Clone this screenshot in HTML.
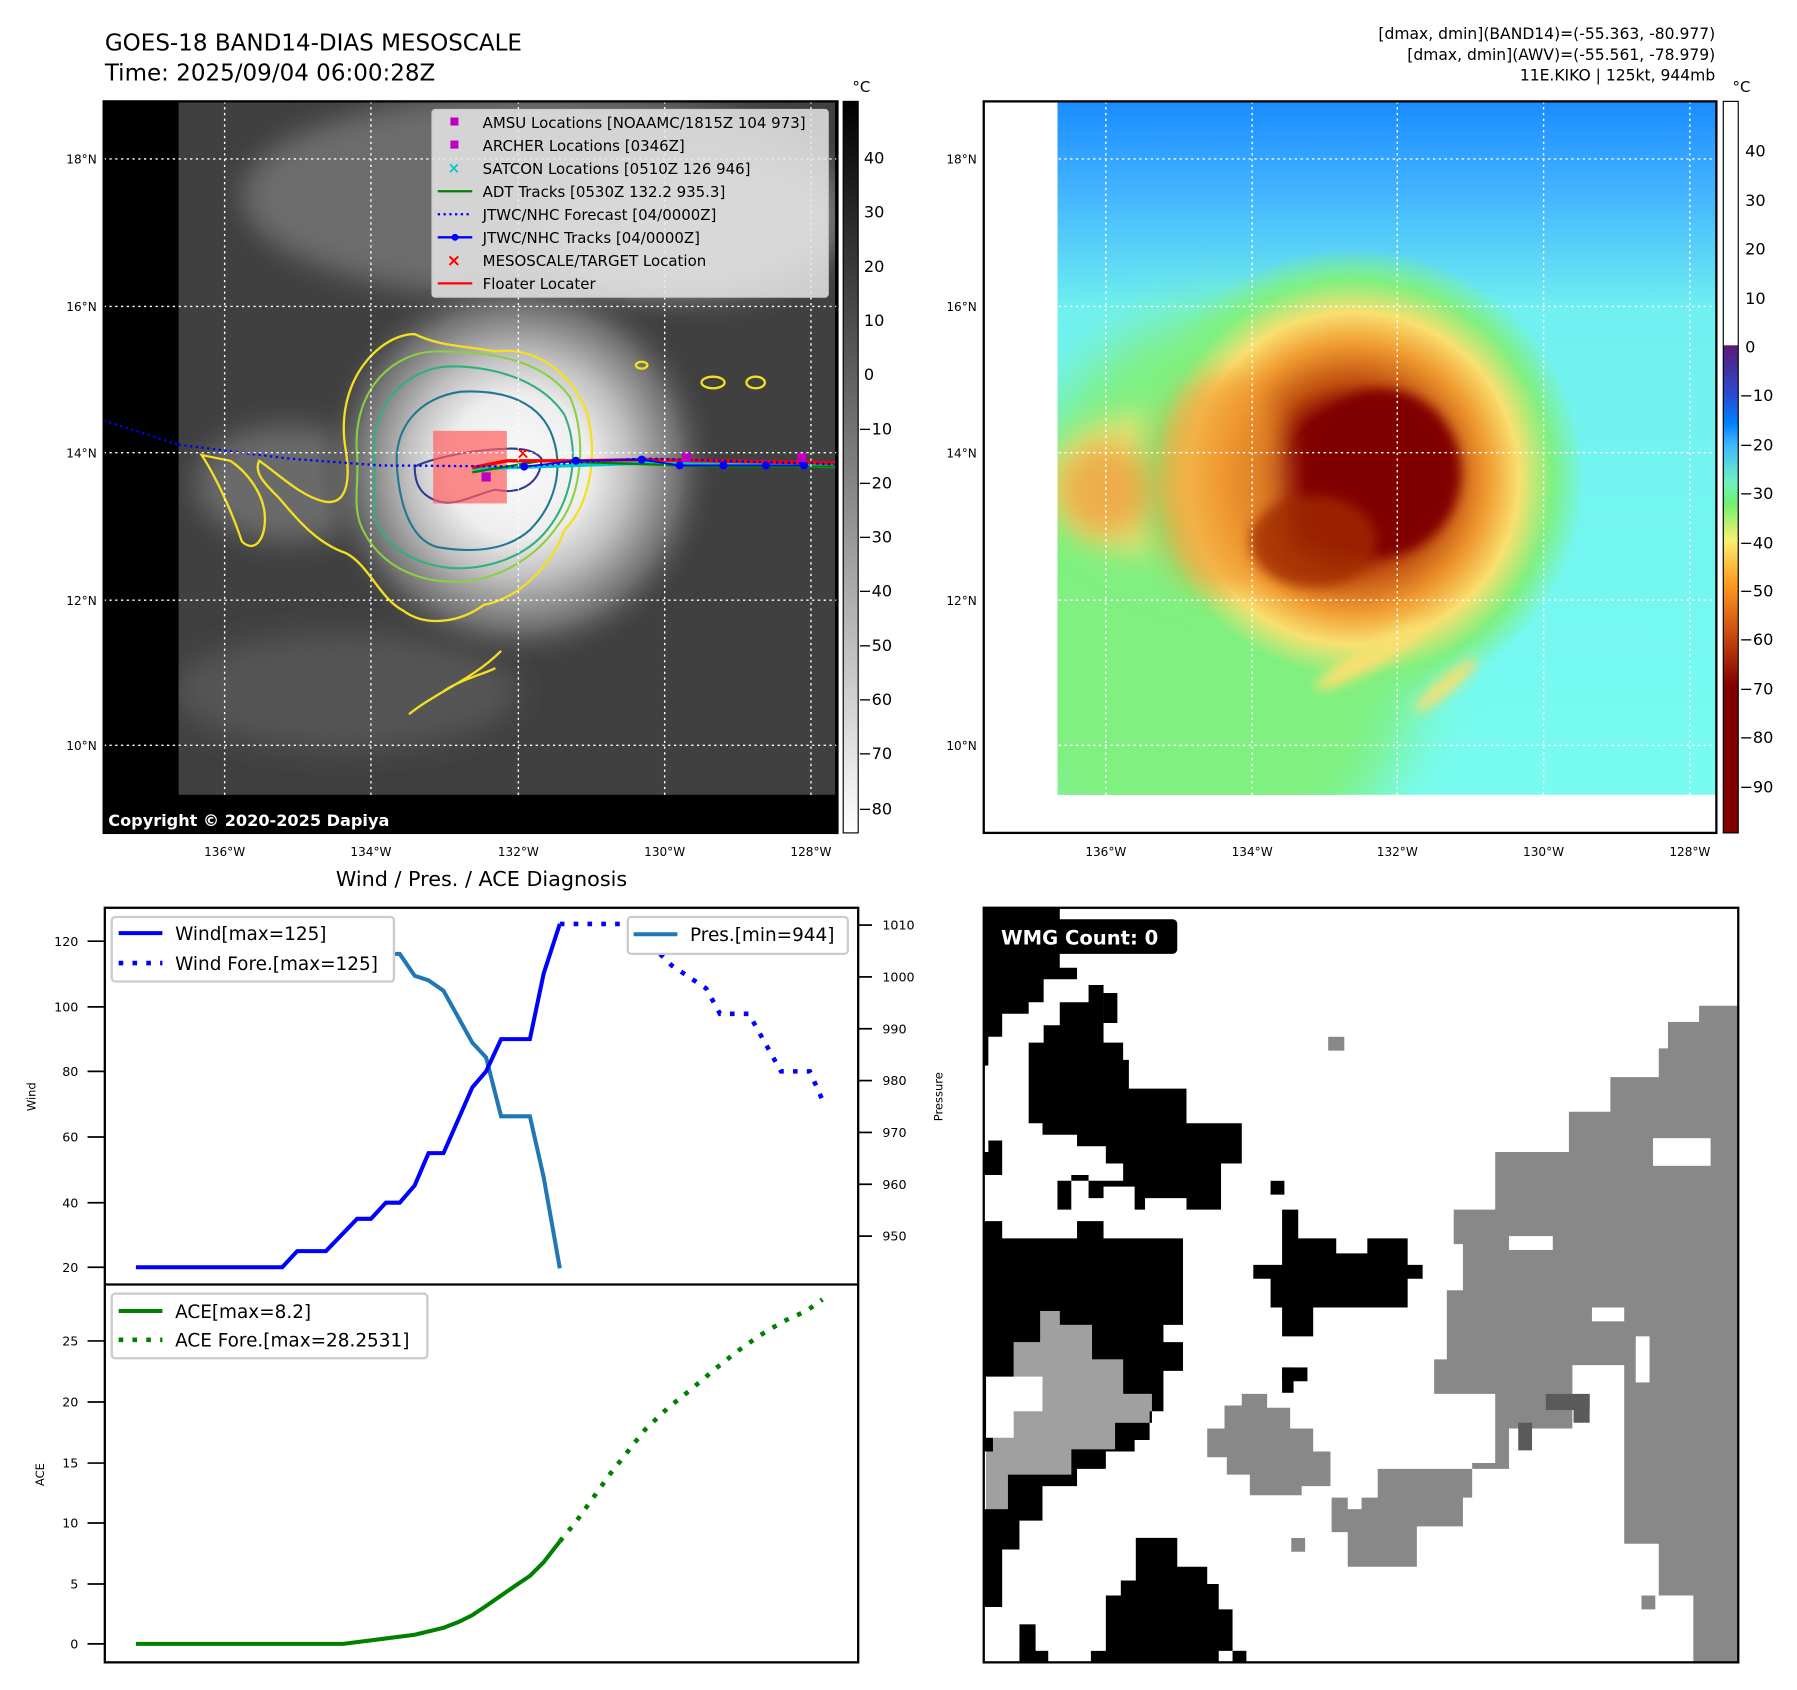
<!DOCTYPE html>
<html><head><meta charset="utf-8"><style>
html,body{margin:0;padding:0;background:#fff}
svg{display:block}
text{font-family:"DejaVu Sans","Liberation Sans",sans-serif}
</style></head><body>
<svg width="1797" height="1690" viewBox="0 0 1560 1467" preserveAspectRatio="none" xmlns="http://www.w3.org/2000/svg">
<defs>
<radialGradient id="eyeG" cx="450" cy="405" r="175" gradientUnits="userSpaceOnUse">
<stop offset="0" stop-color="#fafafa"/><stop offset="0.35" stop-color="#eeeeee"/><stop offset="0.55" stop-color="#c0c0c0"/><stop offset="0.8" stop-color="#707070"/><stop offset="1" stop-color="#404040" stop-opacity="0"/>
</radialGradient>
<linearGradient id="cbL" x1="0" y1="0" x2="0" y2="1"><stop offset="0" stop-color="#000"/><stop offset="1" stop-color="#fff"/></linearGradient>
<linearGradient id="cbR" x1="0" y1="88" x2="0" y2="723" gradientUnits="userSpaceOnUse">
<stop offset="0" stop-color="#fff"/><stop offset="0.333" stop-color="#fff"/><stop offset="0.334" stop-color="#5a1a78"/>
<stop offset="0.40" stop-color="#2a4ad0"/><stop offset="0.44" stop-color="#0080ff"/><stop offset="0.47" stop-color="#40b8ff"/>
<stop offset="0.52" stop-color="#70f0c0"/><stop offset="0.55" stop-color="#70f070"/><stop offset="0.6" stop-color="#f8f070"/>
<stop offset="0.66" stop-color="#ff9a20"/><stop offset="0.73" stop-color="#c84a10"/><stop offset="0.8" stop-color="#800000"/><stop offset="1" stop-color="#800000"/>
</linearGradient>
<linearGradient id="skyR" x1="0" y1="88" x2="0" y2="690" gradientUnits="userSpaceOnUse">
<stop offset="0" stop-color="#1a8cff"/><stop offset="0.12" stop-color="#40b0ff"/><stop offset="0.3" stop-color="#70f0f0"/><stop offset="1" stop-color="#78fcf0"/>
</linearGradient>
<radialGradient id="stormR" cx="1175" cy="415" r="200" gradientUnits="userSpaceOnUse">
<stop offset="0" stop-color="#800000"/><stop offset="0.3" stop-color="#820200"/><stop offset="0.42" stop-color="#c05010"/><stop offset="0.58" stop-color="#f09a30"/><stop offset="0.72" stop-color="#f8e070"/><stop offset="0.86" stop-color="#80f080"/><stop offset="1" stop-color="#80f080" stop-opacity="0"/>
</radialGradient>
<filter id="bl" x="-50%" y="-50%" width="200%" height="200%"><feGaussianBlur stdDeviation="12"/></filter>
<filter id="bl3" x="-50%" y="-50%" width="200%" height="200%"><feGaussianBlur stdDeviation="25"/></filter>
<filter id="bl2" x="-50%" y="-50%" width="200%" height="200%"><feGaussianBlur stdDeviation="5"/></filter>
<clipPath id="cL"><rect x="155" y="88" width="570" height="602"/></clipPath>
<clipPath id="cR"><rect x="918" y="88" width="572" height="602"/></clipPath>
</defs>

<text x="91" y="44" font-size="20">GOES-18 BAND14-DIAS MESOSCALE</text>
<text x="91" y="70" font-size="20">Time: 2025/09/04 06:00:28Z</text>
<text x="1489" y="34" font-size="13.5" text-anchor="end">[dmax, dmin](BAND14)=(-55.363, -80.977)</text>
<text x="1489" y="52" font-size="13.5" text-anchor="end">[dmax, dmin](AWV)=(-55.561, -78.979)</text>
<text x="1489" y="70" font-size="13.5" text-anchor="end">11E.KIKO | 125kt, 944mb</text>

<!-- LEFT MAP -->
<rect x="90" y="88" width="637" height="635" fill="#000"/>
<g clip-path="url(#cL)">
<rect x="155" y="88" width="570" height="602" fill="#404040"/>
<ellipse cx="470" cy="170" rx="260" ry="90" fill="#808080" filter="url(#bl)" opacity="0.7"/>
<ellipse cx="600" cy="200" rx="130" ry="60" fill="#a0a0a0" filter="url(#bl)" opacity="0.55"/>
<ellipse cx="250" cy="420" rx="80" ry="50" fill="#6a6a6a" filter="url(#bl)"/>
<ellipse cx="300" cy="600" rx="150" ry="50" fill="#555" filter="url(#bl)"/>
<circle cx="450" cy="405" r="175" fill="url(#eyeG)"/>
<path d="M300,390 C290,330 330,290 360,290 C380,300 400,300 430,305 C470,300 500,330 510,360 C520,400 510,440 490,460 C480,490 450,520 420,525 C400,540 370,545 350,530 C330,520 320,490 300,480 C270,470 250,440 240,430 C230,420 220,410 225,400 C240,410 260,430 280,435 C300,440 305,420 300,390Z" fill="none" stroke="#f4e020" stroke-width="2"/>
<path d="M310,395 C305,340 340,305 380,305 C420,305 470,310 495,345 C510,380 505,430 485,455 C465,485 430,505 395,505 C360,505 330,490 315,460 C305,440 312,420 310,395Z" fill="none" stroke="#8ccf40" stroke-width="1.8"/>
<path d="M325,400 C320,355 350,320 390,318 C430,318 470,330 490,360 C505,395 495,435 475,460 C455,485 420,495 390,493 C360,490 335,475 325,450Z" fill="none" stroke="#30b080" stroke-width="1.8"/>
<path d="M345,410 C340,370 365,345 400,340 C440,338 470,350 480,380 C490,410 480,440 460,460 C440,478 410,480 380,475 C360,470 348,445 345,410Z" fill="none" stroke="#207890" stroke-width="1.8"/>
<path d="M360,405 C370,400 390,395 410,392 C430,390 460,385 470,398 C470,420 450,430 430,425 C410,430 395,440 380,435 C365,430 360,420 360,405Z" fill="none" stroke="#303a90" stroke-width="1.8"/>
<path d="M175,395 C185,410 200,440 210,470 C220,480 230,470 230,450 C230,430 215,410 200,400Z" fill="none" stroke="#f4e020" stroke-width="2"/>
<path d="M355,620 C380,600 410,590 435,565 M385,600 C400,590 420,585 430,580" fill="none" stroke="#f4e020" stroke-width="2"/>
<ellipse cx="619" cy="332" rx="10" ry="5" fill="none" stroke="#f4e020" stroke-width="2"/>
<ellipse cx="656" cy="332" rx="8" ry="5" fill="none" stroke="#f4e020" stroke-width="2"/>
<ellipse cx="557" cy="317" rx="5" ry="3" fill="none" stroke="#f4e020" stroke-width="2"/>
<rect x="376" y="374" width="64" height="63" fill="#ff6060" opacity="0.7"/>
<polyline points="410,407 560,402 727,405" fill="none" stroke="#00c8c8" stroke-width="3"/>
<polyline points="410,410 470,400 560,403 620,405 727,405" fill="none" stroke="#008000" stroke-width="2"/>
<polyline points="410,406 440,400 500,400 560,399 727,402" fill="none" stroke="#ff0000" stroke-width="3"/>
<polyline points="155,386 250,398 330,404 455,405 520,400 560,398 727,403" fill="none" stroke="#0000ff" stroke-width="2" stroke-dasharray="2,3"/>
<polyline points="455,405 500,400 557,399 590,404 630,404 665,404 700,404" fill="none" stroke="#0000ff" stroke-width="1.5"/>
<g fill="#0000ff"><circle cx="455" cy="405" r="3.5"/><circle cx="500" cy="400" r="3.5"/><circle cx="557" cy="399" r="3.5"/><circle cx="590" cy="404" r="3.5"/><circle cx="628" cy="404" r="3.5"/><circle cx="665" cy="404" r="3.5"/><circle cx="698" cy="404" r="3.5"/></g>
<g fill="#c000c0"><rect x="592" y="393" width="8" height="8"/><rect x="692" y="393" width="8" height="8"/><rect x="418" y="410" width="8" height="8"/></g>
<text x="454" y="398" font-size="14" fill="#f00" text-anchor="middle" font-weight="bold">×</text>
</g>
<polyline points="90,365 155,386" fill="none" stroke="#0000ff" stroke-width="2" stroke-dasharray="2,3"/>
<g stroke="#fff" stroke-width="1.2" stroke-dasharray="2,3">
<line x1="195" y1="88" x2="195" y2="723"/><line x1="322" y1="88" x2="322" y2="723"/><line x1="450" y1="88" x2="450" y2="723"/><line x1="577" y1="88" x2="577" y2="723"/><line x1="704" y1="88" x2="704" y2="723"/>
<line x1="90" y1="138" x2="727" y2="138"/><line x1="90" y1="266" x2="727" y2="266"/><line x1="90" y1="393" x2="727" y2="393"/><line x1="90" y1="521" x2="727" y2="521"/><line x1="90" y1="647" x2="727" y2="647"/>
</g>
<rect x="90" y="692" width="637" height="31" fill="#000"/>
<rect x="375" y="95" width="344" height="163" fill="#e6e6e6" fill-opacity="0.85" stroke="#ccc" rx="3"/>
<g font-size="13">
<rect x="391" y="102" width="7" height="7" fill="#c000c0"/><text x="419" y="111">AMSU Locations [NOAAMC/1815Z 104 973]</text>
<rect x="391" y="122" width="7" height="7" fill="#c000c0"/><text x="419" y="131">ARCHER Locations [0346Z]</text>
<text x="394" y="150" fill="#00c8c8" text-anchor="middle" font-size="13" font-weight="bold">×</text><text x="419" y="151">SATCON Locations [0510Z 126 946]</text>
<line x1="380" y1="166" x2="410" y2="166" stroke="#008000" stroke-width="2"/><text x="419" y="171">ADT Tracks [0530Z 132.2 935.3]</text>
<line x1="380" y1="186" x2="410" y2="186" stroke="#0000ff" stroke-width="2" stroke-dasharray="2,3"/><text x="419" y="191">JTWC/NHC Forecast [04/0000Z]</text>
<line x1="380" y1="206" x2="410" y2="206" stroke="#0000ff" stroke-width="2"/><circle cx="395" cy="206" r="3" fill="#0000ff"/><text x="419" y="211">JTWC/NHC Tracks [04/0000Z]</text>
<text x="394" y="231" fill="#f00" text-anchor="middle" font-size="15" font-weight="bold">×</text><text x="419" y="231">MESOSCALE/TARGET Location</text>
<line x1="380" y1="246" x2="410" y2="246" stroke="#f00" stroke-width="2"/><text x="419" y="251">Floater Locater</text>
</g>
<text x="94" y="717" font-size="14" fill="#fff" font-weight="bold">Copyright © 2020-2025 Dapiya</text>
<rect x="90" y="88" width="637" height="635" fill="none" stroke="#000" stroke-width="2"/>
<g font-size="10.5" text-anchor="end"><text x="84" y="142">18°N</text><text x="84" y="270">16°N</text><text x="84" y="397">14°N</text><text x="84" y="525">12°N</text><text x="84" y="651">10°N</text></g>
<g font-size="10.5" text-anchor="middle"><text x="195" y="743">136°W</text><text x="322" y="743">134°W</text><text x="450" y="743">132°W</text><text x="577" y="743">130°W</text><text x="704" y="743">128°W</text></g>
<rect x="732" y="88" width="13" height="635" fill="url(#cbL)" stroke="#000" stroke-width="1"/>
<text x="740" y="80" font-size="13">°C</text>
<g font-size="14"><text x="750" y="142">40</text><text x="750" y="189">30</text><text x="750" y="236">20</text><text x="750" y="283">10</text><text x="750" y="330">0</text><text x="745" y="377">−10</text><text x="745" y="424">−20</text><text x="745" y="471">−30</text><text x="745" y="518">−40</text><text x="745" y="565">−50</text><text x="745" y="612">−60</text><text x="745" y="659">−70</text><text x="745" y="707">−80</text></g>

<!-- RIGHT MAP -->
<rect x="854" y="88" width="636" height="635" fill="#fff"/>
<g clip-path="url(#cR)">
<rect x="918" y="88" width="572" height="602" fill="url(#skyR)"/>
<ellipse cx="1040" cy="540" rx="200" ry="230" fill="#80f080" filter="url(#bl3)"/>
<ellipse cx="1070" cy="380" rx="130" ry="110" fill="#80f080" filter="url(#bl3)"/>
<ellipse cx="990" cy="420" rx="80" ry="60" fill="#f8e070" filter="url(#bl)" opacity="0.8"/>
<ellipse cx="1175" cy="415" rx="200" ry="200" fill="url(#stormR)"/>
<ellipse cx="960" cy="425" rx="40" ry="40" fill="#f0a040" filter="url(#bl)" opacity="0.8"/>
<ellipse cx="1060" cy="420" rx="60" ry="95" fill="#f09a30" filter="url(#bl)" opacity="0.65"/>
<ellipse cx="1200" cy="410" rx="68" ry="72" fill="#800000" filter="url(#bl2)"/>
<ellipse cx="1140" cy="470" rx="55" ry="40" fill="#a02a00" filter="url(#bl2)" opacity="0.8"/>
<ellipse cx="1190" cy="570" rx="55" ry="10" fill="#f8e070" filter="url(#bl2)" transform="rotate(-30 1190 570)"/>
<ellipse cx="1255" cy="595" rx="35" ry="7" fill="#f8e070" filter="url(#bl2)" transform="rotate(-40 1255 595)"/>
</g>
<g stroke="#fff" stroke-width="1.2" stroke-dasharray="2,3">
<line x1="960" y1="88" x2="960" y2="723"/><line x1="1087" y1="88" x2="1087" y2="723"/><line x1="1213" y1="88" x2="1213" y2="723"/><line x1="1340" y1="88" x2="1340" y2="723"/><line x1="1467" y1="88" x2="1467" y2="723"/>
<line x1="854" y1="138" x2="1490" y2="138"/><line x1="854" y1="266" x2="1490" y2="266"/><line x1="854" y1="393" x2="1490" y2="393"/><line x1="854" y1="521" x2="1490" y2="521"/><line x1="854" y1="647" x2="1490" y2="647"/>
</g>
<rect x="854" y="88" width="636" height="635" fill="none" stroke="#000" stroke-width="2"/>
<g font-size="10.5" text-anchor="end"><text x="848" y="142">18°N</text><text x="848" y="270">16°N</text><text x="848" y="397">14°N</text><text x="848" y="525">12°N</text><text x="848" y="651">10°N</text></g>
<g font-size="10.5" text-anchor="middle"><text x="960" y="743">136°W</text><text x="1087" y="743">134°W</text><text x="1213" y="743">132°W</text><text x="1340" y="743">130°W</text><text x="1467" y="743">128°W</text></g>
<rect x="1496" y="88" width="13" height="635" fill="url(#cbR)" stroke="#000" stroke-width="1"/>
<text x="1504" y="80" font-size="13">°C</text>
<g font-size="14"><text x="1515" y="136">40</text><text x="1515" y="179">30</text><text x="1515" y="221">20</text><text x="1515" y="264">10</text><text x="1515" y="306">0</text><text x="1510" y="348">−10</text><text x="1510" y="391">−20</text><text x="1510" y="433">−30</text><text x="1510" y="476">−40</text><text x="1510" y="518">−50</text><text x="1510" y="560">−60</text><text x="1510" y="603">−70</text><text x="1510" y="645">−80</text><text x="1510" y="688">−90</text></g>

<!-- BOTTOM LEFT -->
<text x="418" y="769" font-size="18" text-anchor="middle">Wind / Pres. / ACE Diagnosis</text>
<rect x="91" y="788" width="654" height="655" fill="#fff" stroke="#000" stroke-width="2"/>
<line x1="91" y1="1115" x2="745" y2="1115" stroke="#000" stroke-width="2"/>
<polyline fill="none" stroke="#1f77b4" stroke-width="3.5" points="118,802 258,802 270,806 298,806 310,815 322,820 335,828 347,828 360,847 372,851 385,860 410,905 422,918 435,969 460,969 472,1022 486,1101"/>
<polyline fill="none" stroke="#0000ff" stroke-width="3.5" points="118,1100 245,1100 258,1086 283,1086 310,1058 322,1058 335,1044 347,1044 360,1029 372,1001 385,1001 410,944 422,930 435,902 460,902 472,845 486,802"/>
<polyline fill="none" stroke="#0000ff" stroke-width="4" stroke-dasharray="4,8" points="486,802 538,802 558,813 583,838 613,858 625,880 650,880 678,930 703,930 714,955"/>
<rect x="97" y="796" width="245" height="56" fill="#fff" stroke="#ccc" stroke-width="2" rx="3"/>
<line x1="103" y1="810" x2="141" y2="810" stroke="#0000ff" stroke-width="3.5"/><text x="152" y="816" font-size="16">Wind[max=125]</text>
<line x1="103" y1="836" x2="141" y2="836" stroke="#0000ff" stroke-width="4" stroke-dasharray="4,8"/><text x="152" y="842" font-size="16">Wind Fore.[max=125]</text>
<rect x="545" y="796" width="191" height="32" fill="#fff" stroke="#ccc" stroke-width="2" rx="3"/>
<line x1="550" y1="811" x2="588" y2="811" stroke="#1f77b4" stroke-width="3.5"/><text x="599" y="817" font-size="16">Pres.[min=944]</text>
<polyline fill="none" stroke="#008000" stroke-width="3.5" points="118,1427 298,1427 360,1419 385,1413 398,1408 410,1402 422,1394 435,1385 448,1376 460,1368 472,1356 486,1338"/>
<polyline fill="none" stroke="#008000" stroke-width="4" stroke-dasharray="4,8" points="486,1338 500,1321 515,1300 530,1279 545,1260 560,1241 580,1222 600,1206 620,1189 640,1173 660,1159 680,1147 700,1138 714,1128"/>
<rect x="97" y="1123" width="274" height="56" fill="#fff" stroke="#ccc" stroke-width="2" rx="3"/>
<line x1="103" y1="1138" x2="141" y2="1138" stroke="#008000" stroke-width="3.5"/><text x="152" y="1144" font-size="16">ACE[max=8.2]</text>
<line x1="103" y1="1163" x2="141" y2="1163" stroke="#008000" stroke-width="4" stroke-dasharray="4,8"/><text x="152" y="1169" font-size="16">ACE Fore.[max=28.2531]</text>
<g stroke="#000" stroke-width="1.5">
<line x1="76" y1="817" x2="91" y2="817"/><line x1="76" y1="874" x2="91" y2="874"/><line x1="76" y1="930" x2="91" y2="930"/><line x1="76" y1="987" x2="91" y2="987"/><line x1="76" y1="1044" x2="91" y2="1044"/><line x1="76" y1="1100" x2="91" y2="1100"/>
<line x1="745" y1="803" x2="757" y2="803"/><line x1="745" y1="848" x2="757" y2="848"/><line x1="745" y1="893" x2="757" y2="893"/><line x1="745" y1="938" x2="757" y2="938"/><line x1="745" y1="983" x2="757" y2="983"/><line x1="745" y1="1028" x2="757" y2="1028"/><line x1="745" y1="1073" x2="757" y2="1073"/>
<line x1="76" y1="1427" x2="91" y2="1427"/><line x1="76" y1="1375" x2="91" y2="1375"/><line x1="76" y1="1322" x2="91" y2="1322"/><line x1="76" y1="1270" x2="91" y2="1270"/><line x1="76" y1="1217" x2="91" y2="1217"/><line x1="76" y1="1164" x2="91" y2="1164"/>
</g>
<g font-size="11" text-anchor="end"><text x="68" y="821">120</text><text x="68" y="878">100</text><text x="68" y="934">80</text><text x="68" y="991">60</text><text x="68" y="1048">40</text><text x="68" y="1104">20</text>
<text x="68" y="1431">0</text><text x="68" y="1379">5</text><text x="68" y="1326">10</text><text x="68" y="1274">15</text><text x="68" y="1221">20</text><text x="68" y="1168">25</text></g>
<g font-size="11"><text x="766" y="807">1010</text><text x="766" y="852">1000</text><text x="766" y="897">990</text><text x="766" y="942">980</text><text x="766" y="987">970</text><text x="766" y="1032">960</text><text x="766" y="1077">950</text></g>
<text x="31" y="952" font-size="10" transform="rotate(-90 31 952)" text-anchor="middle">Wind</text>
<text x="38" y="1280" font-size="10" transform="rotate(-90 38 1280)" text-anchor="middle">ACE</text>
<text x="818" y="952" font-size="10" transform="rotate(-90 818 952)" text-anchor="middle">Pressure</text>

<!-- BOTTOM RIGHT WMG -->
<rect x="854" y="788" width="655" height="655" fill="#fff"/>
<g fill="#888">
<polygon points="1509,873 1475,873 1475,887 1448,887 1448,910 1440,910 1440,935 1398,935 1398,965 1362,965 1362,1000 1298,1000 1298,1050 1262,1050 1262,1080 1270,1080 1270,1120 1256,1120 1256,1180 1245,1180 1245,1210 1298,1210 1298,1270 1278,1270 1278,1300 1270,1300 1270,1325 1230,1325 1230,1360 1170,1360 1170,1330 1156,1330 1156,1300 1196,1300 1196,1275 1310,1275 1310,1240 1365,1240 1365,1185 1410,1185 1410,1340 1440,1340 1440,1385 1470,1385 1470,1443 1509,1443"/>
<polygon points="1048,1240 1063,1240 1063,1220 1078,1220 1078,1210 1100,1210 1100,1222 1120,1222 1120,1240 1140,1240 1140,1260 1155,1260 1155,1290 1130,1290 1130,1298 1085,1298 1085,1280 1065,1280 1065,1265 1048,1265"/>
<rect x="1153" y="900" width="14" height="12"/><rect x="1121" y="1335" width="12" height="12"/><rect x="1425" y="1385" width="12" height="12"/>
</g>
<g fill="#fff"><rect x="1435" y="988" width="50" height="24"/><rect x="1310" y="1073" width="38" height="12"/><rect x="1382" y="1135" width="28" height="12"/><rect x="1170" y="1298" width="12" height="12"/><rect x="1420" y="1160" width="12" height="40"/></g>
<g fill="#5a5a5a"><rect x="1342" y="1210" width="38" height="14"/><rect x="1366" y="1210" width="14" height="25"/><rect x="1318" y="1235" width="12" height="24"/></g>
<polygon fill="#a0a0a0" points="862,1248 880,1248 880,1225 905,1225 905,1195 880,1195 880,1165 903,1165 903,1138 920,1138 920,1150 948,1150 948,1180 975,1180 975,1210 1000,1210 1000,1235 968,1235 968,1258 930,1258 930,1280 875,1280 875,1310 856,1310 856,1260"/>
<g fill="#000">
<polygon points="854,788 920,788 920,840 935,840 935,850 906,850 906,870 893,870 893,880 870,880 870,900 858,900 858,925 854,925"/>
<polygon points="893,905 906,905 906,890 920,890 920,870 945,870 945,855 958,855 958,905 975,905 975,920 980,920 980,945 1030,945 1030,975 1078,975 1078,1010 1060,1010 1060,1050 1030,1050 1030,1040 994,1040 994,1050 985,1050 985,1030 958,1030 958,1040 945,1040 945,1020 930,1020 930,1050 918,1050 918,1025 975,1025 975,1010 960,1010 960,995 935,995 935,985 905,985 905,975 893,975 893,990 870,990 870,1020 854,1020 854,1000 858,1000 858,990 893,990"/>
<rect x="958" y="862" width="12" height="26"/>
<polygon points="854,1060 870,1060 870,1075 935,1075 935,1060 958,1060 958,1075 1027,1075 1027,1150 1010,1150 1010,1165 1027,1165 1027,1190 1010,1190 1010,1225 998,1225 998,1250 985,1250 985,1260 960,1260 960,1275 935,1275 935,1290 905,1290 905,1320 885,1320 885,1345 870,1345 870,1395 854,1395 854,1310 875,1310 875,1280 930,1280 930,1258 968,1258 968,1235 1000,1235 1000,1210 975,1210 975,1180 948,1180 948,1150 920,1150 920,1138 903,1138 903,1165 880,1165 880,1195 856,1195 856,1248 862,1248 862,1260 854,1260"/>
<polygon points="1113,1050 1127,1050 1127,1075 1160,1075 1160,1088 1187,1088 1187,1075 1222,1075 1222,1098 1235,1098 1235,1110 1222,1110 1222,1135 1140,1135 1140,1160 1113,1160 1113,1135 1103,1135 1103,1110 1088,1110 1088,1098 1113,1098"/>
<rect x="1103" y="1025" width="12" height="12"/><rect x="1113" y="1187" width="22" height="12"/><rect x="1113" y="1187" width="10" height="22"/>
<polygon points="986,1335 1022,1335 1022,1360 1048,1360 1048,1375 1058,1375 1058,1397 1070,1397 1070,1433 1058,1433 1058,1443 947,1443 947,1433 960,1433 960,1385 973,1385 973,1372 986,1372"/>
<rect x="885" y="1410" width="14" height="33"/><rect x="885" y="1433" width="25" height="10"/><rect x="1070" y="1433" width="12" height="10"/>
</g>
<rect x="858" y="798" width="164" height="30" rx="4" fill="#000"/>
<text x="869" y="820" font-size="17" font-weight="bold" fill="#fff">WMG Count: 0</text>
<rect x="854" y="788" width="655" height="655" fill="none" stroke="#000" stroke-width="2"/>
</svg>
</body></html>
